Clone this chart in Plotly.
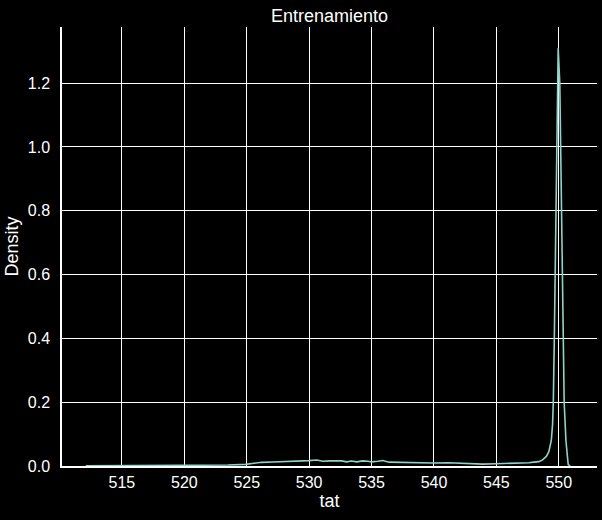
import plotly.graph_objects as go

# KDE curve (tat vs density)
tat = [512.1, 514.0, 516.0, 518.0, 520.0, 522.0, 523.5, 524.9, 525.3, 525.6,
       526.2, 527.1, 528.2, 529.2, 530.0, 530.6, 531.1, 531.6, 532.2, 532.6,
       533.0, 533.4, 533.8, 534.3, 534.7, 535.0, 535.5, 535.9, 536.4, 537.2,
       538.0, 539.0, 539.9, 541.2, 542.6, 543.9, 545.0, 546.6, 547.6, 548.0,
       548.4, 548.7, 549.0, 549.2, 549.4, 549.5, 549.56, 549.64, 549.7, 549.75,
       549.8, 549.86, 549.95, 550.08, 550.14, 550.19, 550.27, 550.32, 550.43, 550.57,
       550.66, 550.75, 550.9]
density = [0.0003, 0.0005, 0.0008, 0.001, 0.0013, 0.0018, 0.003, 0.005, 0.007, 0.010,
           0.0115, 0.0125, 0.014, 0.014, 0.0167, 0.019, 0.015, 0.016, 0.017, 0.016,
           0.013, 0.0155, 0.013, 0.016, 0.015, 0.013, 0.015, 0.017, 0.012, 0.011,
           0.0115, 0.011, 0.0094, 0.0104, 0.0083, 0.006, 0.007, 0.0083, 0.0104, 0.012,
           0.0136, 0.019, 0.03, 0.045, 0.08, 0.13, 0.2, 0.4, 0.6, 0.8,
           1.0, 1.2, 1.31, 1.2, 1.0, 0.8, 0.6, 0.4, 0.2, 0.08,
           0.03, 0.005, 0.0]

x_ticks = [515, 520, 525, 530, 535, 540, 545, 550]
y_ticks = [0.0, 0.2, 0.4, 0.6, 0.8, 1.0, 1.2]

font_family = "Liberation Sans, Arial, sans-serif"

fig_w, fig_h = 602, 520

fig = go.Figure(go.Scatter(
    x=tat,
    y=density,
    mode='lines',
    line=dict(color='#8dd3c7', width=1.6),
    showlegend=False
))

fig.update_layout(
    width=fig_w,
    height=fig_h,
    paper_bgcolor='black',
    plot_bgcolor='black',
    font=dict(family=font_family, size=16, color='white'),
    margin=dict(l=62, r=5, t=27, b=54),
    title=dict(
        text='Entrenamiento',
        x=0.5,
        xref='paper',
        xanchor='center',
        y=(fig_h - 16) / fig_h,
        yref='container',
        yanchor='middle',
        font=dict(size=18, color='white')
    ),
    xaxis=dict(
        range=[510.2, 553.06],
        tickvals=x_ticks,
        ticks='',
        ticklabelstandoff=1,
        showgrid=True,
        gridcolor='white',
        gridwidth=1.3,
        zeroline=False,
        showline=True,
        linecolor='white',
        linewidth=1.5,
        title=dict(text='tat', font=dict(size=18), standoff=2),
    ),
    yaxis=dict(
        range=[0, 1.376],
        tickvals=y_ticks,
        tickformat='.1f',
        ticks='',
        ticklabelstandoff=7,
        showgrid=True,
        gridcolor='white',
        gridwidth=1.3,
        zeroline=False,
        showline=True,
        linecolor='white',
        linewidth=1.5,
        title=dict(text='Density', font=dict(size=18), standoff=4),
    ),
)

# drop the default body margin so the figure fills the window from the corner
fig.write_html(
    "out.html",
    config={'displayModeBar': False},
    post_script="document.body.style.margin='0';",
)
